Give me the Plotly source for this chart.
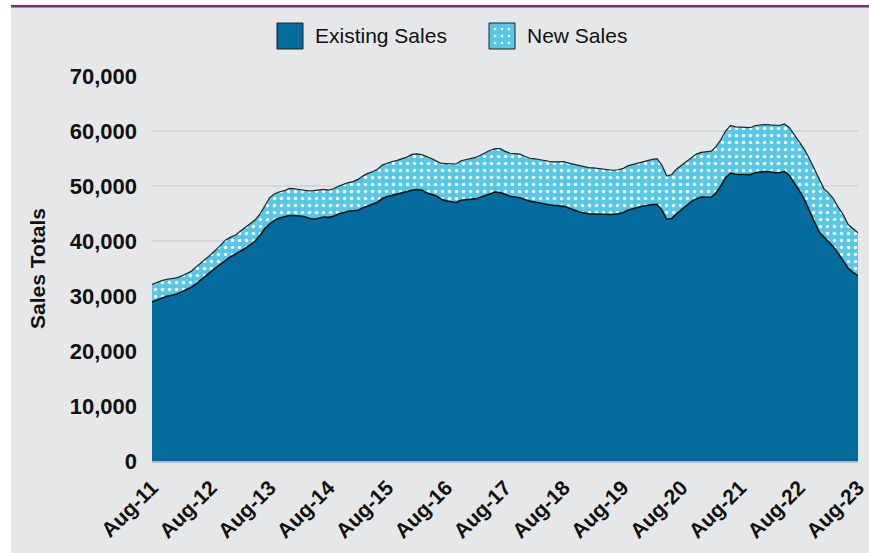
import pandas as pd
import plotly.graph_objects as go

# monthly, Aug-2011 .. Aug-2023
start_month = "2011-08-01"
n_months = 145

existing_sales = [
    28950, 29300, 29650, 29950, 30150, 30350, 30750, 31100, 31600, 32200,
    33000, 33700, 34450, 35150, 35850, 36550, 37150, 37650, 38100, 38650,
    39300, 39950, 41000, 42250, 43100, 43800, 44200, 44500, 44650, 44650,
    44600, 44450, 44150, 43950, 44150, 44350, 44300, 44500, 44900, 45150,
    45400, 45500, 45600, 46000, 46400, 46650, 47050, 47750, 48100, 48300,
    48550, 48850, 49050, 49220, 49350, 49250, 48750, 48500, 48200, 47600,
    47300, 47150, 47000, 47400, 47500, 47600, 47700, 47950, 48300, 48600,
    48900, 48800, 48450, 48150, 48000, 47850, 47550, 47250, 47100, 46900,
    46750, 46600, 46500, 46420, 46300, 46000, 45650, 45300, 45150, 44950,
    44920, 44900, 44870, 44850, 44810, 44950, 45150, 45600, 45900, 46100,
    46320, 46500, 46630, 46690, 45600, 43950, 44100, 44950, 45700, 46500,
    47200, 47700, 48000, 47950, 47950, 48700, 50000, 51500, 52350, 52150,
    52100, 52100, 52070, 52400, 52550, 52650, 52600, 52400, 52400, 52670,
    51900, 50600, 49200, 47600, 45600, 43400, 41700, 40760, 39900, 38950,
    37700, 36300, 35050, 34300, 33700,
]

new_sales = [
    3150, 3200, 3150, 3100, 3050, 2950, 2900, 2900, 2900, 3100,
    3000, 3000, 3100, 3250, 3450, 3650, 3550, 3450, 3700, 3800,
    3850, 3850, 3900, 4050, 4800, 4800, 4750, 4650, 4900, 4850,
    4800, 4850, 4950, 5200, 5100, 5050, 4950, 5000, 5050, 5150,
    5200, 5300, 5600, 5800, 5900, 5950, 6000, 6050, 6050, 6150,
    6100, 6050, 6200, 6530, 6500, 6450, 6650, 6500, 6350, 6500,
    6760, 6850, 7000, 7200, 7300, 7400, 7500, 7650, 7750, 7900,
    7880, 7980, 7850, 7800, 7900, 7950, 7850, 7800, 7850, 7950,
    7950, 7900, 7880, 8060, 8150, 8150, 8300, 8350, 8280, 8400,
    8380, 8330, 8260, 8100, 8050, 8000, 8000, 8050, 8000, 8000,
    8080, 8200, 8220, 8280, 8160, 7850, 8000, 8150, 8100, 8000,
    8050, 8100, 8100, 8250, 8400, 8400, 8400, 8500, 8650, 8600,
    8600, 8600, 8530, 8600, 8600, 8530, 8500, 8600, 8600, 8630,
    8700, 8750, 8800, 9100, 9500, 9800, 9600, 8770, 8750, 8750,
    8400, 8500, 7950, 8000, 7800,
]

series_names = ["Existing Sales", "New Sales"]

months = pd.date_range(start_month, periods=n_months, freq="MS")

BG = "#e6e7e9"
DARK = "#036b9d"
LIGHT = "#55c8e8"
FONT = "Liberation Sans, Arial, sans-serif"

W, H = 869, 553
ML, MR, MT, MB = 152, 11, 76, 92
PW, PH = W - ML - MR, H - MT - MB


def px(x):
    return (x - ML) / PW


def py(y):
    return (H - MB - y) / PH


fig = go.Figure()

fig.add_trace(go.Scatter(
    x=months, y=existing_sales, name=series_names[0],
    stackgroup="s", mode="lines", showlegend=False,
    line=dict(color="#111111", width=1.6),
    fillcolor=DARK,
))
fig.add_trace(go.Scatter(
    x=months, y=new_sales, name=series_names[1],
    stackgroup="s", mode="lines", showlegend=False,
    line=dict(color="#222222", width=1.2),
    fillcolor=LIGHT,
    fillpattern=dict(shape=".", bgcolor=LIGHT, fgcolor="white",
                     fgopacity=1, size=7, solidity=0.2),
))

# page decoration: white strips, purple rule
shapes = [
    dict(type="rect", xref="paper", yref="paper",
         x0=px(0), x1=px(11), y0=py(H), y1=py(0),
         fillcolor="white", line=dict(width=0), layer="below"),
    dict(type="rect", xref="paper", yref="paper",
         x0=px(0), x1=px(W), y0=py(5), y1=py(0),
         fillcolor="white", line=dict(width=0), layer="below"),
    dict(type="line", xref="paper", yref="paper",
         x0=px(11), x1=px(W), y0=py(6.2), y1=py(6.2),
         line=dict(color="#7b2a7f", width=2.5), layer="below"),
]

# hand-built legend (square swatches like the original)
swatches = [(277, DARK), (489, LIGHT)]
annotations = []
for (sx, col), name in zip(swatches, series_names):
    shapes.append(dict(type="rect", xref="paper", yref="paper",
                       x0=px(sx), x1=px(sx + 26), y0=py(49), y1=py(23),
                       fillcolor=col, line=dict(color="#222222", width=1)))
    annotations.append(dict(xref="paper", yref="paper", x=px(sx + 36), y=py(36),
                            text=name, showarrow=False, xanchor="left", yanchor="middle",
                            font=dict(size=21, family=FONT, color="#111111")))
for dx in (6, 13, 20):
    for dy in (29, 36, 43):
        shapes.append(dict(type="rect", xref="paper", yref="paper",
                           x0=px(489 + dx - 1.2), x1=px(489 + dx + 1.2),
                           y0=py(dy + 1.2), y1=py(dy - 1.2),
                           fillcolor="white", line=dict(width=0)))

fig.update_layout(
    width=W, height=H,
    paper_bgcolor=BG, plot_bgcolor=BG,
    margin=dict(l=ML, r=MR, t=MT, b=MB, autoexpand=False),
    font=dict(family=FONT, color="#111111"),
    showlegend=False,
    xaxis=dict(
        type="date", range=[months[0], months[-1]],
        tick0=start_month, dtick="M12", tickformat="%b-%y",
        tickangle=-45, tickfont=dict(size=21, family=FONT, weight="bold"),
        showgrid=False, zeroline=False,
        showline=True, linecolor="#b8b8b8", linewidth=2,
        ticks="", ticklabelstandoff=4, automargin=False,
    ),
    yaxis=dict(
        range=[0, 70000], dtick=10000, tickformat=",d",
        tickfont=dict(size=22, family=FONT, weight="bold"),
        showgrid=True, gridcolor="#d6d7d9", gridwidth=2,
        zeroline=False, ticks="", ticklabelstandoff=14, automargin=False,
        title=dict(text="Sales Totals", font=dict(size=21, family=FONT, weight="bold"),
                   standoff=18),
    ),
    shapes=shapes,
    annotations=annotations,
)

fig.write_html("out.html", config={"displayModeBar": False},
               post_script="document.body.style.margin='0';")
